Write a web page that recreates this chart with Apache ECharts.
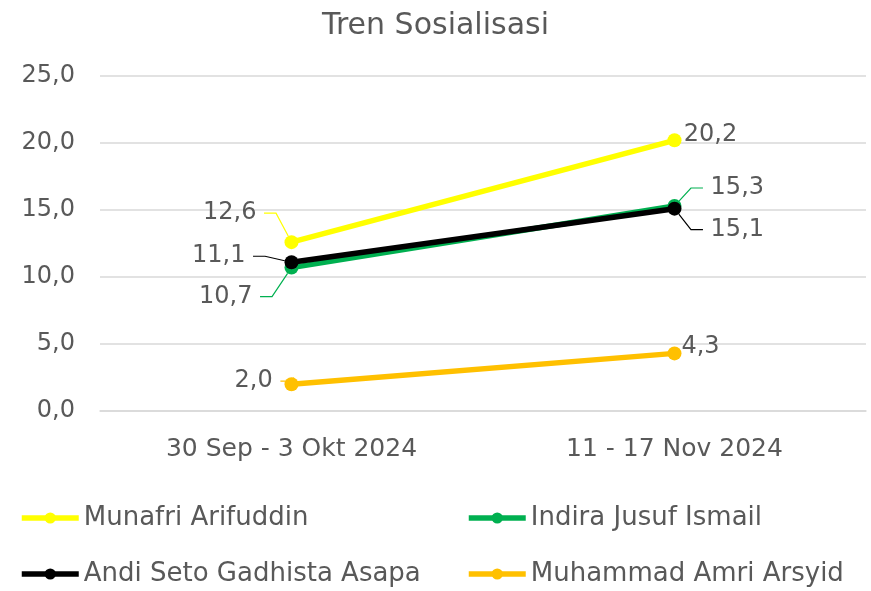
<!DOCTYPE html>
<html>
<head>
<meta charset="utf-8">
<script src="https://cdn.jsdelivr.net/npm/echarts@6/dist/echarts.min.js"></script>
<style>
  html, body { margin: 0; padding: 0; background: #fff; }
  #chart { width: 871px; height: 591px; }
</style>
</head>
<body>
<div id="chart"></div>
<script>
// data
var categories = ['30 Sep - 3 Okt 2024', '11 - 17 Nov 2024'];
var munafri = [12.6, 20.2];
var indira = [10.7, 15.3];
var andi = [11.1, 15.1];
var amri = [2.0, 4.3];

var textColor = '#595959';
var fontName = 'DejaVu Sans';

function fmt(v) {
  return v.toFixed(1).replace('.', ',');
}

// shift of each label from its point, and whether a leader line is drawn
function makeSeries(name, values, color, shifts, leaders, z) {
  return {
    name: name,
    type: 'line',
    z: z,
    data: values.map(function (v, i) {
      return { value: v, labelLine: { show: leaders[i] } };
    }),
    symbol: 'circle',
    symbolSize: 14,
    lineStyle: { width: 5.5, color: color },
    itemStyle: { color: color },
    label: {
      show: true,
      position: 'inside',
      fontSize: 24,
      fontFamily: fontName,
      color: textColor,
      formatter: function (p) {
        var t = fmt(p.value);
        if (!leaders[p.dataIndex]) return t;
        // a blank keeps the leader line off the text
        return shifts[p.dataIndex][0] < 0 ? t + '\u00a0' : '\u00a0' + t;
      }
    },
    labelLine: { show: true, length2: 12, lineStyle: { color: color, width: 1.2 } },
    labelLayout: function (params) {
      var s = shifts[params.dataIndex];
      var pad = leaders[params.dataIndex] ? (s[0] < 0 ? 4 : -4) : 0;
      return { dx: s[0] + pad, dy: s[1] };
    }
  };
}

var myChart = echarts.init(document.getElementById('chart'));

var seriesList = [
  makeSeries('Munafri Arifuddin', munafri, '#ffff00', [[-62, -29], [36, -6]], [true, false], 2),
  makeSeries('Indira Jusuf Ismail', indira, '#00b050', [[-66, 29], [63, -18]], [true, true], 3),
  makeSeries('Andi Seto Gadhista Asapa', andi, '#000000', [[-73, -6], [63, 21]], [true, true], 4),
  makeSeries('Muhammad Amri Arsyid', amri, '#ffc000', [[-38, -3], [26, -7]], [true, false], 5)
];

var legendText = { fontSize: 26, color: textColor, fontFamily: fontName };

var option = {
  animation: false,
  textStyle: { fontFamily: fontName },
  title: {
    text: 'Tren Sosialisasi',
    left: 'center',
    top: 6,
    textStyle: { fontSize: 30, fontWeight: 'normal', color: textColor, fontFamily: fontName }
  },
  grid: { left: 100, right: 5, top: 76, bottom: 180 },
  legend: [
    {
      orient: 'vertical',
      left: 19,
      top: 505,
      height: 110,
      padding: 0,
      itemGap: 30,
      itemWidth: 57,
      itemHeight: 14,
      lineStyle: { width: 5.5 },
      textStyle: legendText,
      data: ['Munafri Arifuddin', 'Andi Seto Gadhista Asapa']
    },
    {
      orient: 'vertical',
      left: 466,
      top: 505,
      height: 110,
      padding: 0,
      itemGap: 30,
      itemWidth: 57,
      itemHeight: 14,
      lineStyle: { width: 5.5 },
      textStyle: legendText,
      data: ['Indira Jusuf Ismail', 'Muhammad Amri Arsyid']
    }
  ],
  xAxis: {
    type: 'category',
    data: categories,
    axisLine: { lineStyle: { color: '#d9d9d9', width: 1.5 } },
    axisTick: { show: false },
    axisLabel: { fontSize: 25, color: textColor, margin: 26, fontFamily: fontName }
  },
  yAxis: {
    type: 'value',
    min: 0,
    max: 25,
    interval: 5,
    axisLine: { show: false },
    axisTick: { show: false },
    splitLine: { lineStyle: { color: '#d9d9d9', width: 1.5 } },
    axisLabel: {
      fontSize: 24,
      color: textColor,
      margin: 25,
      fontFamily: fontName,
      formatter: function (v) { return fmt(v); }
    }
  },
  series: seriesList
};

myChart.setOption(option);
</script>
</body>
</html>
